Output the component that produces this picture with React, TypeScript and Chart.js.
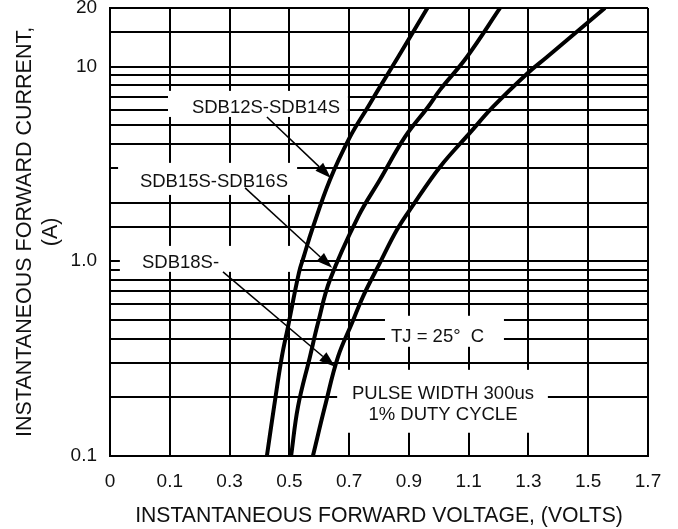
import React, { useEffect, useRef } from 'react';
import { Chart, registerables } from 'chart.js';

Chart.register(...registerables);

// ---- data (volts, amps) ----
const xTickLabels = ['0', '0.1', '0.3', '0.5', '0.7', '0.9', '1.1', '1.3', '1.5', '1.7'];
const yLabeledTicks = [0.1, 1, 10, 20];
const yTickLabels = ['0.1', '1.0', '10', '20'];

const curve1V = [0.425, 0.449, 0.475, 0.4955, 0.532, 0.549, 0.576, 0.636, 0.703, 0.763, 0.797, 0.864, 0.962];
const curve1I = [0.1, 0.179, 0.323, 0.46, 0.871, 1.065, 1.45, 2.62, 4.35, 6.2, 7.59, 11.2, 20];

const curve2V = [0.506, 0.529, 0.569, 0.596, 0.636, 0.73, 0.803, 0.887, 0.964, 1.004, 1.094, 1.205];
const curve2I = [0.1, 0.179, 0.323, 0.482, 0.802, 1.689, 2.62, 4.35, 6.2, 7.59, 11.2, 20];

const curve3V = [0.579, 0.619, 0.663, 0.71, 0.746, 0.803, 0.86, 0.91, 1.004, 1.104, 1.181, 1.298, 1.362, 1.556];
const curve3I = [0.1, 0.179, 0.323, 0.482, 0.656, 0.98, 1.45, 1.9, 3.05, 4.56, 6.2, 9.27, 11.2, 20];

const seriesNames = ['SDB12S-SDB14S', 'SDB15S-SDB16S', 'SDB18S-'];

// ---- annotations (data coordinates) ----
const notes = [
  { lines: ['SDB12S-SDB14S'], box: [0.094, 0.696, 7.5, 5.51], at: [0.174, 6.13], align: 'left' },
  { lines: ['SDB15S-SDB16S'], box: [-0.073, 0.526, 3.2, 2.19], at: [0.0, 2.555], align: 'left' },
  { lines: ['SDB18S-'], box: [-0.067, 0.536, 1.198, 0.881], at: [0.007, 0.98], align: 'left' },
  { lines: ['TJ = 25°  C'], box: [0.82, 1.218, 0.524, 0.363], at: [0.996, 0.4085], align: 'center' },
  { lines: ['PULSE WIDTH 300us', '1% DUTY CYCLE'], box: [0.66, 1.365, 0.2764, 0.1313], at: [1.014, 0.1838], align: 'center' },
];

const arrows = [
  [0.425, 5.51, 0.639, 2.679],
  [0.352, 2.379, 0.643, 0.924],
  [0.278, 0.881, 0.653, 0.2865],
];

const FONT = '"Liberation Sans", Arial, Helvetica, sans-serif';

const toPoints = (xs: number[], ys: number[]) => xs.map((x, i) => ({ x, y: ys[i] }));

const annotationPlugin = {
  id: 'notes',
  beforeDatasetsDraw(chart: any) {
    const { ctx, scales } = chart;
    const xs = scales.x;
    const ys = scales.y;
    ctx.save();
    ctx.font = `18.5px ${FONT}`;
    ctx.textBaseline = 'middle';
    for (const n of notes) {
      const x0 = xs.getPixelForValue(n.box[0]);
      const x1 = xs.getPixelForValue(n.box[1]);
      const y0 = ys.getPixelForValue(n.box[2]);
      const y1 = ys.getPixelForValue(n.box[3]);
      ctx.fillStyle = '#ffffff';
      ctx.fillRect(x0, y0, x1 - x0, y1 - y0);
      ctx.fillStyle = '#111111';
      ctx.textAlign = n.align as CanvasTextAlign;
      const tx = xs.getPixelForValue(n.at[0]);
      const tyc = ys.getPixelForValue(n.at[1]);
      const lh = 21;
      const startY = tyc - ((n.lines.length - 1) * lh) / 2;
      n.lines.forEach((line, i) => ctx.fillText(line, tx, startY + i * lh));
    }
    ctx.restore();
  },
  afterDatasetsDraw(chart: any) {
    const { ctx, scales } = chart;
    const xs = scales.x;
    const ys = scales.y;
    ctx.save();
    ctx.strokeStyle = '#000';
    ctx.fillStyle = '#000';
    ctx.lineWidth = 1.5;
    for (const a of arrows) {
      const sx = xs.getPixelForValue(a[0]);
      const sy = ys.getPixelForValue(a[1]);
      const ex = xs.getPixelForValue(a[2]);
      const ey = ys.getPixelForValue(a[3]);
      const ang = Math.atan2(ey - sy, ex - sx);
      const hl = 16;
      const hw = 5.5;
      const bx = ex - hl * Math.cos(ang);
      const by = ey - hl * Math.sin(ang);
      ctx.beginPath();
      ctx.moveTo(sx, sy);
      ctx.lineTo(bx, by);
      ctx.stroke();
      ctx.beginPath();
      ctx.moveTo(ex, ey);
      ctx.lineTo(bx + hw * Math.sin(ang), by - hw * Math.cos(ang));
      ctx.lineTo(bx - hw * Math.sin(ang), by + hw * Math.cos(ang));
      ctx.closePath();
      ctx.fill();
    }
    ctx.restore();
  },
};

export default function App() {
  const canvasRef = useRef<HTMLCanvasElement | null>(null);

  useEffect(() => {
    if (!canvasRef.current) return;
    const lineStyle = {
      borderColor: '#000',
      borderWidth: 4,
      pointRadius: 0,
      fill: false,
      tension: 0.4,
    };
    const chart = new Chart(canvasRef.current, {
      type: 'line',
      data: {
        datasets: [
          { label: seriesNames[0], data: toPoints(curve1V, curve1I), ...lineStyle },
          { label: seriesNames[1], data: toPoints(curve2V, curve2I), ...lineStyle },
          { label: seriesNames[2], data: toPoints(curve3V, curve3I), ...lineStyle },
        ],
      },
      options: {
        animation: false,
        responsive: false,
        devicePixelRatio: 1,
        layout: { padding: { top: 8, left: 0, right: 30, bottom: 0 } },
        plugins: {
          legend: { display: false },
          tooltip: { enabled: false },
        },
        scales: {
          x: {
            type: 'linear',
            min: -0.1,
            max: 1.7,
            ticks: {
              stepSize: 0.2,
              autoSkip: false,
              maxRotation: 0,
              padding: 0,
              color: '#111',
              font: { family: FONT, size: 19 },
              callback: (_v: any, i: number) => xTickLabels[i] ?? '',
            },
            grid: { color: '#000', lineWidth: 2, drawTicks: true, tickLength: 15, tickColor: 'rgba(0,0,0,0)' },
            border: { color: '#000', width: 2 },
            title: {
              display: true,
              text: 'INSTANTANEOUS FORWARD VOLTAGE, (VOLTS)',
              color: '#111',
              font: { family: FONT, size: 21.2 },
              padding: { top: 10, bottom: 0 },
            },
          },
          y: {
            type: 'logarithmic',
            min: 0.1,
            max: 20,
            ticks: {
              autoSkip: false,
              padding: 0,
              color: '#111',
              font: { family: FONT, size: 19, lineHeight: 0.8 },
              callback: (v: any) => {
                const val = Number(v);
                const k = yLabeledTicks.findIndex((t) => Math.abs(t - val) < t * 1e-6);
                return k >= 0 ? yTickLabels[k] : '';
              },
            },
            grid: { color: '#000', lineWidth: 2, drawTicks: true, tickLength: 13, tickColor: 'rgba(0,0,0,0)' },
            border: { color: '#000', width: 2 },
            title: {
              display: true,
              text: ['INSTANTANEOUS FORWARD CURRENT,', '(A)'],
              color: '#111',
              font: { family: FONT, size: 21.5 },
              padding: { top: 12.1, bottom: 6.9 },
            },
          },
        },
      },
      plugins: [annotationPlugin],
    });
    return () => chart.destroy();
  }, []);

  return (
    <div style={{ position: 'fixed', left: 0, top: 0, width: 678, height: 529, background: '#fff' }}>
      <canvas ref={canvasRef} width={678} height={529} style={{ width: 678, height: 529, display: 'block' }} />
    </div>
  );
}
